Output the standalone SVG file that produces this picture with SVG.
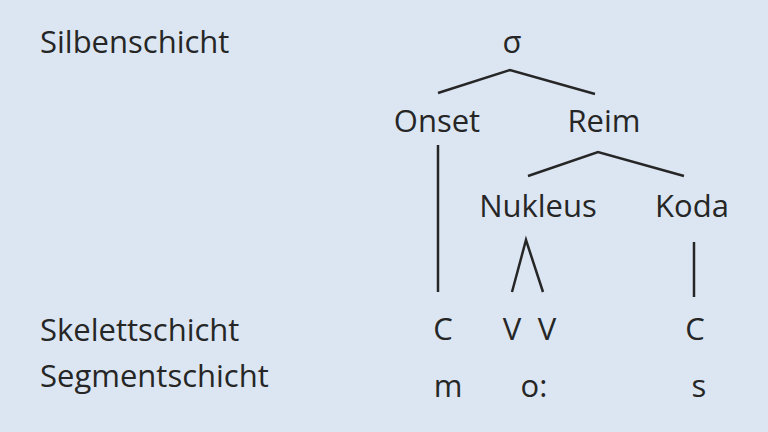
<svg xmlns="http://www.w3.org/2000/svg" width="768" height="432" viewBox="0 0 768 432">
<style>
text{font-family:"Open Sans","Noto Sans","DejaVu Sans",sans-serif;font-size:31px;fill:#262626}
.c{text-anchor:middle}
.e{stroke:#262626;stroke-width:2.5;fill:none;stroke-linecap:butt;stroke-linejoin:miter}
</style>
<rect width="768" height="432" fill="#dce6f3"/>
<g id="layers">
<text x="40" y="53">Silbenschicht</text>
<text x="40" y="341">Skelettschicht</text>
<text x="40" y="387">Segmentschicht</text>
</g>
<g id="connectors">
<polyline class="e" points="438,93 510,70 595,94"/>
<line class="e" x1="438" y1="145" x2="438" y2="292"/>
<polyline class="e" points="528,176 598,152 684,176"/>
<polyline class="e" points="512,292 526,240 543,292"/>
<line class="e" x1="694" y1="242" x2="694" y2="297"/>
</g>
<g id="sigma"><text class="c" x="512" y="53">σ</text></g>
<g id="onset"><text class="c" x="437" y="132">Onset</text></g>
<g id="reim"><text class="c" x="604" y="132">Reim</text></g>
<g id="nukleus"><text class="c" x="538" y="217">Nukleus</text></g>
<g id="koda"><text class="c" x="692" y="217">Koda</text></g>
<g id="skelett-c1"><text class="c" x="443" y="340">C</text></g>
<g id="skelett-v1"><text class="c" x="512" y="340">V</text></g>
<g id="skelett-v2"><text class="c" x="547" y="340">V</text></g>
<g id="skelett-c2"><text class="c" x="695" y="340">C</text></g>
<g id="seg-m"><text class="c" x="448" y="397">m</text></g>
<g id="seg-o"><text class="c" x="534" y="397">o:</text></g>
<g id="seg-s"><text class="c" x="699" y="397">s</text></g>
</svg>
